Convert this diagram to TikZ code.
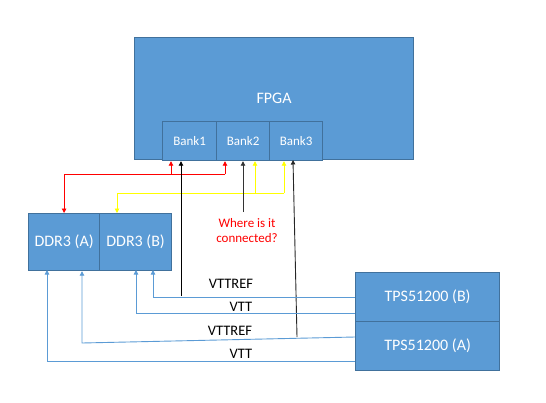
\documentclass[tikz,border=0pt]{standalone}
\usepackage{fontspec}
\setmainfont{Carlito}
\usetikzlibrary{arrows.meta}
\definecolor{boxfill}{HTML}{5B9BD5}
\definecolor{boxline}{HTML}{41719C}
\definecolor{wireblue}{HTML}{5B9BD5}
\definecolor{wirered}{HTML}{FF0000}
\definecolor{wireyellow}{HTML}{FFFF00}
\begin{document}
\begin{tikzpicture}[x=1pt,y=-1pt,
  box/.style={draw=boxline,line width=1.2pt,fill=boxfill,text=white,inner sep=0pt,anchor=north west,font=\fontsize{16}{19}\selectfont},
  bankbox/.style={box,font=\fontsize{13}{16}\selectfont},
  tipa/.style={-{Triangle[width=4.5pt,length=4.5pt]}},
  wire/.style={line width=0.9pt},
  redw/.style={wire,draw=wirered,tipa},
  yelw/.style={wire,draw=wireyellow,tipa},
  blkw/.style={wire,draw=black,tipa},
  bluw/.style={wire,draw=wireblue,tipa},
  lbl/.style={font=\fontsize{14.5}{17}\selectfont,inner sep=0pt}]
\useasboundingbox (0,0) rectangle (546,402);
% boxes
\node[box,minimum width=279pt,minimum height=122pt] (fpga) at (134,37) {FPGA};
\node[bankbox,minimum width=54pt,minimum height=39pt] (bank1) at (162,121) {Bank1};
\node[bankbox,minimum width=53pt,minimum height=39pt] (bank2) at (216,121) {Bank2};
\node[bankbox,minimum width=53pt,minimum height=39pt] (bank3) at (269,121) {Bank3};
\node[box,minimum width=71pt,minimum height=57pt] (ddrA) at (28,213) {DDR3 (A)};
\node[box,minimum width=72pt,minimum height=57pt] (ddrB) at (99,213) {DDR3 (B)};
\node[box,minimum width=144pt,minimum height=49pt] (tpsB) at (355,272) {TPS51200 (B)};
\node[box,minimum width=144pt,minimum height=49pt] (tpsA) at (355,321) {TPS51200 (A)};
% coordinates
\coordinate (r1) at (171,174);
\coordinate (r2) at (225,174);
\coordinate (y0) at (117,193);
\coordinate (y1) at (255,193);
\coordinate (y2) at (284,193);
\coordinate (k1) at (181,296);
\coordinate (k2) at (243,212);
\coordinate (k3) at (297,337);
\coordinate (k3t) at (293,160);
\coordinate (vb1) at (355,297);
\coordinate (vb2) at (355,313);
\coordinate (va1) at (355,337);
\coordinate (va1l) at (82,343);
\coordinate (va2) at (355,361);
% red
\draw[redw] (r2) -- (r2 |- bank2.south);
\draw[redw] (r1) -- (r1 |- bank1.south);
\draw[redw] (r2) -| (ddrA.north);
% yellow
\draw[yelw] (y2) -- (y2 |- bank3.south);
\draw[yelw] (y1) -- (y1 |- bank2.south);
\draw[yelw] (y2) -- (y0) -- (y0 |- ddrB.north);
% black
\draw[blkw] (k1) -- (k1 |- bank1.south);
\draw[blkw,draw=black!80] (k2) -- (k2 |- bank2.south);
\draw[blkw,draw=black!85] (k3) -- (k3t);
% blue
\draw[bluw] (vb1) -| (153,270);
\draw[bluw] (vb2) -| (136,270);
\draw[bluw] (va1) -- (va1l) -- (va1l |- ddrA.south);
\draw[bluw] (va2) -| (47,270);
% labels
\node[lbl] (l1) at (231,284) {VTTREF};
\node[lbl] (l2) at (241,307) {VTT};
\node[lbl] (l3) at (230,331) {VTTREF};
\node[lbl] (l4) at (241,354) {VTT};
\node[text=wirered,font=\fontsize{13}{15}\selectfont,align=center,inner sep=0pt] (q) at (247,231) {Where is it\\connected?};
\end{tikzpicture}
\end{document}
